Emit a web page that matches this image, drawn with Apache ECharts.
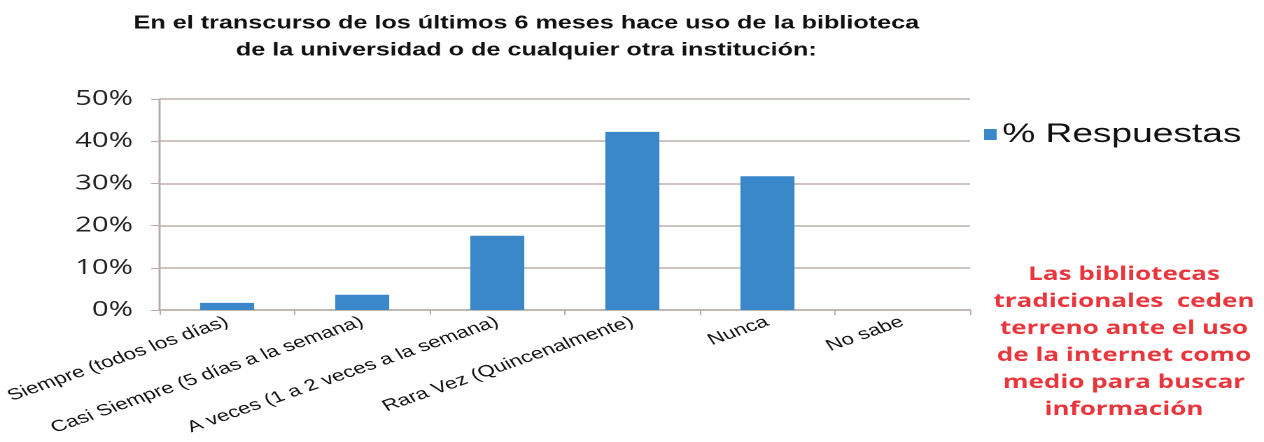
<!DOCTYPE html>
<html>
<head>
<meta charset="utf-8">
<script src="https://cdn.jsdelivr.net/npm/echarts@6/dist/echarts.min.js"></script>
<style>
  html, body { margin: 0; padding: 0; background: #fff; overflow: hidden; }
  /* la imagen original esta estirada a lo ancho: se dibuja angosta y se estira */
  #chart { width: 903px; height: 442px; transform: scaleX(1.39978); transform-origin: 0 0; }
</style>
</head>
<body>
<div id="chart"></div>
<script>
// categorias y valores
const categorias = [
  'Siempre (todos los días)',
  'Casi Siempre (5 días a la semana)',
  'A veces (1 a 2 veces a la semana)',
  'Rara Vez (Quincenalmente)',
  'Nunca',
  'No sabe'
]
const respuestas = [1.7, 3.6, 17.6, 42.2, 31.7, 0]
const serieNombre = '% Respuestas'
const tituloLineas = [
  'En el transcurso de los últimos 6 meses hace uso de la biblioteca',
  'de la universidad o de cualquier otra institución:'
]
const notaLineas = [
  'Las bibliotecas',
  'tradicionales  ceden',
  'terreno ante el uso',
  'de la internet como',
  'medio para buscar',
  'información'
]

const chart = echarts.init(document.getElementById('chart'), null, { devicePixelRatio: 2 })
chart.setOption({
  animation: false,
  title: [
    {
      text: tituloLineas.join('\n'),
      left: 371,
      top: 5,
      textAlign: 'center',
      textStyle: {
        fontFamily: 'Liberation Sans',
        fontWeight: 'bold',
        fontSize: 18,
        lineHeight: 27,
        color: '#111'
      }
    },
    {
      text: notaLineas.join('\n'),
      left: 798,
      top: 256,
      textAlign: 'center',
      textStyle: {
        fontFamily: 'Open Sans',
        fontWeight: 'bold',
        fontSize: 18.6,
        lineHeight: 27,
        color: '#e8363c'
      }
    }
  ],
  legend: {
    data: [serieNombre],
    left: 698,
    top: 116,
    itemWidth: 9,
    itemHeight: 11,
    itemGap: 5,
    icon: 'rect',
    textStyle: {
      fontFamily: 'Liberation Sans',
      fontSize: 26.5,
      padding: [0, 0, 0, -1],
      color: '#111'
    }
  },
  grid: {
    left: 114,
    right: 210,
    top: 99,
    bottom: 132
  },
  xAxis: {
    type: 'category',
    data: categorias,
    axisLine: { lineStyle: { color: '#b8aca8', width: 1.5 } },
    axisTick: { show: true, length: 5, lineStyle: { color: '#b8aca8' } },
    axisLabel: {
      rotate: 26,
      interval: 0,
      margin: 11,
      fontFamily: 'Liberation Sans',
      fontSize: 16,
      color: '#111'
    }
  },
  yAxis: {
    type: 'value',
    min: 0,
    max: 50,
    interval: 10,
    axisLine: { show: true, lineStyle: { color: '#b8aca8', width: 1.5 } },
    axisTick: { show: true, length: 6, lineStyle: { color: '#b8aca8' } },
    splitLine: { lineStyle: { color: '#bcb0ac', width: 1.5 } },
    axisLabel: {
      formatter: '{value}%',
      margin: 19,
      fontFamily: 'Open Sans',
      fontSize: 21,
      color: '#222'
    }
  },
  series: [
    {
      name: serieNombre,
      type: 'bar',
      data: respuestas,
      barWidth: '40%',
      itemStyle: { color: '#3a88c9' }
    }
  ]
})
</script>
</body>
</html>
